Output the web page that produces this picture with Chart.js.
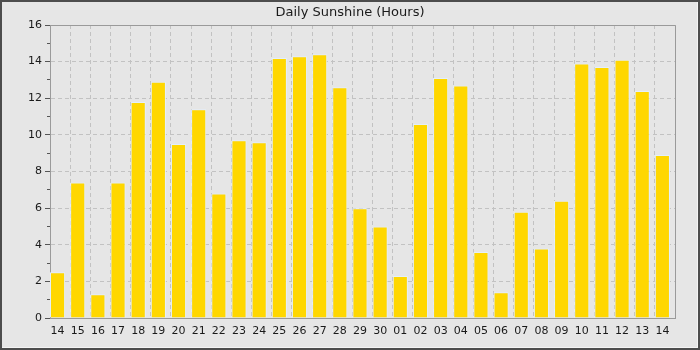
<!DOCTYPE html>
<html>
<head>
<meta charset="utf-8">
<script src="https://cdn.jsdelivr.net/npm/chart.js@4/dist/chart.umd.min.js"></script>
<style>
  html, body { margin: 0; padding: 0; background: #e6e6e6; }
  #wrap { width: 700px; height: 350px; position: relative; }
</style>
</head>
<body>
<div id="wrap"><canvas id="c" width="700" height="350"></canvas></div>
<script>
// ---- data ----
const categories = ['14','15','16','17','18','19','20','21','22','23','24','25','26','27','28','29','30',
                    '01','02','03','04','05','06','07','08','09','10','11','12','13','14'];
const sunshineHours = [2.5, 7.4, 1.3, 7.4, 11.8, 12.9, 9.5, 11.4, 6.8, 9.7, 9.6, 14.2, 14.3, 14.4, 12.6, 6.0, 5.0,
                       2.3, 10.6, 13.1, 12.7, 3.6, 1.4, 5.8, 3.8, 6.4, 13.9, 13.7, 14.1, 12.4, 8.9];
const yTickValues = [0, 2, 4, 6, 8, 10, 12, 14, 16];
const chartTitle = 'Daily Sunshine (Hours)';

// ---- style ----
const BAR_FRAC = 0.75;                       // bar width as a fraction of a day slot
const MIN_TICK_GAP = Math.min(BAR_FRAC / 2, 1 - BAR_FRAC / 2); // Chart.js sizes bars by the smallest tick gap
const GRID = '#c2c2c2';
const AXIS = '#9a9a9a';
const TEXT = '#1a1a1a';
const FONT = 'DejaVu Sans';

const points = sunshineHours.map((v, i) => ({ x: i, y: v }));

const framePlugin = {
  id: 'frame',
  beforeDraw(chart) {
    const { ctx, width, height } = chart;
    ctx.save();
    ctx.fillStyle = '#4d4d4d';
    ctx.fillRect(0, 0, width, height);
    ctx.fillStyle = '#f4f4f4';
    ctx.fillRect(2, 2, width - 4, height - 4);
    ctx.fillStyle = '#e6e6e6';
    ctx.fillRect(2, 2, width - 5, height - 5);
    ctx.restore();
  },
  afterDraw(chart) {
    const { ctx, chartArea: a } = chart;
    ctx.save();
    ctx.strokeStyle = AXIS;
    ctx.lineWidth = 1;
    ctx.beginPath();
    ctx.moveTo(Math.round(a.left) + 0.5, Math.round(a.top) + 0.5);
    ctx.lineTo(Math.round(a.right) + 0.5, Math.round(a.top) + 0.5);
    ctx.lineTo(Math.round(a.right) + 0.5, Math.round(a.bottom) + 0.5);
    ctx.stroke();
    ctx.restore();
  }
};

new Chart(document.getElementById('c'), {
  type: 'bar',
  data: {
    datasets: [{
      label: chartTitle,
      data: points,
      backgroundColor: '#ffd700',
      borderColor: '#e4f0fb',
      borderWidth: 1,
      barPercentage: BAR_FRAC / MIN_TICK_GAP,
      categoryPercentage: 1,
      xAxisID: 'x',
      yAxisID: 'y'
    }]
  },
  plugins: [framePlugin],
  options: {
    responsive: false,
    animation: false,
    layout: { padding: 0 },
    plugins: {
      legend: { display: false },
      tooltip: { enabled: false },
      title: {
        display: true,
        text: chartTitle,
        color: TEXT,
        font: { family: FONT, size: 13, weight: 'normal', lineHeight: 1 },
        padding: { top: 6, bottom: 6 }
      }
    },
    scales: {
      x: {
        type: 'linear',
        position: 'bottom',
        offset: false,
        min: -BAR_FRAC / 2,
        max: categories.length - BAR_FRAC / 2,
        afterBuildTicks(scale) {
          const t = [];
          for (let i = 0; i <= categories.length; i++) {
            t.push({ value: i - BAR_FRAC / 2 });
            if (i < categories.length) t.push({ value: i });
          }
          scale.ticks = t;
        },
        afterFit(scale) { scale.height = 32; },
        ticks: {
          autoSkip: false,
          maxRotation: 0,
          padding: 7,
          color: TEXT,
          font: { family: FONT, size: 11 },
          callback: (v) => Number.isInteger(v) ? categories[v] : ''
        },
        grid: {
          offset: false,
          drawTicks: false,
          lineWidth: 1,
          color: (ctx) => (ctx.tick && Number.isInteger(ctx.tick.value)) ? 'rgba(0,0,0,0)' : GRID
        },
        border: { display: true, color: AXIS, width: 1, dash: [4, 3] }
      },
      y: {
        position: 'left',
        weight: 1,
        min: 0,
        max: 16,
        afterBuildTicks(scale) { scale.ticks = yTickValues.map(v => ({ value: v })); },
        afterFit(scale) { scale.width = 50; },
        ticks: {
          padding: 3,
          color: TEXT,
          font: { family: FONT, size: 11 }
        },
        grid: {
          color: GRID,
          lineWidth: 1,
          tickLength: 5,
          tickColor: '#555',
          tickBorderDash: []
        },
        border: { display: true, color: AXIS, width: 1, dash: [4, 3] }
      },
      yMinor: {
        position: 'left',
        weight: 0,
        min: 0,
        max: 16,
        ticks: { display: false, stepSize: 1 },
        afterFit(scale) { scale.width = 0; },
        grid: {
          drawOnChartArea: false,
          tickLength: 3,
          tickColor: (ctx) => (ctx.tick && ctx.tick.value % 2 === 1) ? '#555' : 'rgba(0,0,0,0)',
          tickBorderDash: []
        },
        border: { display: false }
      },
      ySpacer: {
        position: 'right',
        min: 0,
        max: 16,
        ticks: { display: false },
        grid: { display: false, drawTicks: false },
        border: { display: false },
        afterFit(scale) { scale.width = 25; }
      }
    }
  }
});
</script>
</body>
</html>
